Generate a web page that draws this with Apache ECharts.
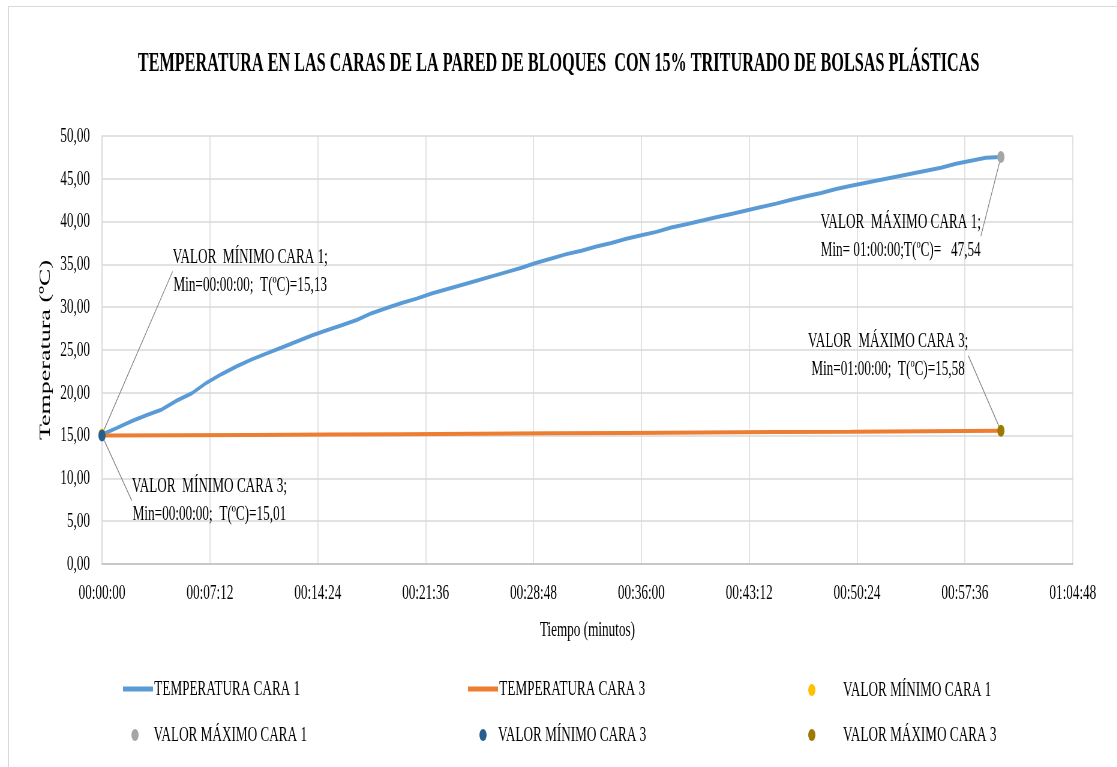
<!DOCTYPE html>
<html>
<head>
<meta charset="utf-8">
<script src="https://cdn.jsdelivr.net/npm/echarts@6/dist/echarts.min.js"></script>
<style>
  html, body { margin: 0; padding: 0; background: #fff; overflow: hidden; }
  #frame { position: absolute; left: 8px; top: 6px; width: 1120px; height: 770px; border: 1px solid #d9d9d9; box-sizing: border-box; }
  /* the reference is a horizontally squeezed picture: draw wide, then squeeze */
  #wrap { position: absolute; left: 0; top: 0; width: 1862px; height: 767px; transform: scaleX(0.6); transform-origin: 0 0; }
  #chart { width: 1862px; height: 767px; }
</style>
</head>
<body>
<div id="frame"></div>
<div id="wrap"><div id="chart"></div></div>
<script>
// tiempo en minutos
const tiempoMin = [0, 1, 2, 3, 4, 5, 6, 7, 8, 9, 10, 11, 12, 13, 14, 15, 16, 17, 18, 19, 20,
  21, 22, 23, 24, 25, 26, 27, 28, 29, 30, 31, 32, 33, 34, 35, 36, 37, 38, 39, 40,
  41, 42, 43, 44, 45, 46, 47, 48, 49, 50, 51, 52, 53, 54, 55, 56, 57, 58, 59, 60]
const caraUno = [15.13, 15.9, 16.7, 17.4, 18.05, 19.1, 19.95, 21.2, 22.2, 23.1, 23.9,
  24.6, 25.3, 26.0, 26.7, 27.3, 27.9, 28.5, 29.3, 29.9, 30.5,
  31.0, 31.6, 32.1, 32.6, 33.1, 33.6, 34.1, 34.6, 35.2, 35.7,
  36.2, 36.6, 37.1, 37.5, 38.0, 38.4, 38.8, 39.3, 39.7, 40.1,
  40.5, 40.9, 41.3, 41.7, 42.1, 42.55, 42.95, 43.35, 43.8, 44.2,
  44.55, 44.9, 45.25, 45.6, 45.95, 46.3, 46.75, 47.1, 47.45, 47.54]
const tiempoMinC3 = [0, 5, 10, 15, 20, 25, 30, 35, 40, 45, 50, 55, 60]
const caraTres = [15.01, 15.04, 15.08, 15.12, 15.16, 15.21, 15.26, 15.31, 15.36, 15.41, 15.46, 15.52, 15.58]

const minCara1 = [0, 15.13]
const maxCara1 = [60, 47.54]
const minCara3 = [0, 15.01]
const maxCara3 = [60, 15.58]

const FONT = 'Liberation Serif'
const pad = n => String(n).padStart(2, '0')
const hms = s => pad(Math.floor(s / 3600)) + ':' + pad(Math.floor(s % 3600 / 60)) + ':' + pad(Math.round(s % 60))
const num = v => v.toFixed(2).replace('.', ',')
const pts = (ts, vs) => ts.map((t, i) => [t * 60, vs[i]])

const labelBase = {
  show: true,
  position: 'inside',
  fontFamily: FONT,
  fontSize: 22,
  lineHeight: 28,
  color: '#000',
  align: 'center'
}
const guide = { show: true, lineStyle: { color: '#7f7f7f', width: 1.2 } }

function marker (name, color, point, text, dx, dy) {
  return {
    name,
    type: 'scatter',
    symbol: 'circle',
    symbolSize: 12,
    z: 5,
    itemStyle: { color, opacity: 1 },
    data: [[point[0] * 60, point[1]]],
    label: Object.assign({}, labelBase, { formatter: p => text(p.value) }),
    labelLine: guide,
    labelLayout: { dx, dy }
  }
}

// one legend per item, laid out like the 3x2 grid of the reference
function legLine (name, left, top) {
  return {
    data: [name], left, top, padding: 0,
    icon: 'rect', itemWidth: 50, itemHeight: 5,
    textStyle: { fontFamily: FONT, fontSize: 22, color: '#000', padding: [0, 0, 0, -3] },
    selectedMode: false
  }
}
function legDot (name, left, top, gap) {
  return {
    data: [name], left, top, padding: 0,
    icon: 'circle', itemWidth: 12, itemHeight: 12,
    textStyle: { fontFamily: FONT, fontSize: 22, color: '#000', padding: [0, 0, 0, gap] },
    selectedMode: false
  }
}

const chart = echarts.init(document.getElementById('chart'))
chart.setOption({
  backgroundColor: 'transparent',
  animation: false,
  title: {
    text: 'TEMPERATURA EN LAS CARAS DE LA PARED DE BLOQUES  CON 15% TRITURADO DE BOLSAS PLÁSTICAS',
    left: 'center',
    top: 46,
    textStyle: { fontFamily: FONT, fontSize: 27, fontWeight: 'bold', color: '#000' }
  },
  grid: { left: 170, right: 74, top: 136, bottom: 203, containLabel: false },
  legend: [
    legLine('TEMPERATURA CARA 1', 205, 678),
    legLine('TEMPERATURA CARA 3', 780, 678),
    legDot('VALOR MÍNIMO CARA 1', 1347, 679, 41),
    legDot('VALOR MÁXIMO CARA 1', 219, 724, 20),
    legDot('VALOR MÍNIMO CARA 3', 799, 724, 14),
    legDot('VALOR MÁXIMO CARA 3', 1347, 724, 41)
  ],
  xAxis: {
    type: 'value',
    min: 0,
    max: 3888,
    interval: 432,
    name: 'Tiempo (minutos)',
    nameLocation: 'middle',
    nameGap: 55,
    nameTextStyle: { fontFamily: FONT, fontSize: 22, color: '#000' },
    axisLine: { show: true, lineStyle: { color: '#bfbfbf', width: 1.5 } },
    axisTick: { show: false },
    axisLabel: { fontFamily: FONT, fontSize: 22, color: '#000', margin: 18, formatter: v => hms(v) },
    splitLine: { show: true, lineStyle: { color: '#d9d9d9', width: 1.5 } }
  },
  yAxis: {
    type: 'value',
    min: 0,
    max: 50,
    interval: 5,
    name: 'Temperatura (ºC)',
    nameLocation: 'middle',
    nameRotate: 90,
    nameGap: 68,
    nameTextStyle: { fontFamily: FONT, fontSize: 26, color: '#000' },
    axisLine: { show: true, lineStyle: { color: '#d9d9d9', width: 1.5 } },
    axisTick: { show: false },
    axisLabel: { fontFamily: FONT, fontSize: 22, color: '#000', margin: 20, formatter: v => num(v) },
    splitLine: { show: true, lineStyle: { color: '#d9d9d9', width: 1.5 } }
  },
  series: [
    {
      name: 'TEMPERATURA CARA 1',
      type: 'line',
      symbol: 'none',
      lineStyle: { color: '#5b9bd5', width: 4 },
      itemStyle: { color: '#5b9bd5' },
      data: pts(tiempoMin, caraUno)
    },
    {
      name: 'TEMPERATURA CARA 3',
      type: 'line',
      symbol: 'none',
      lineStyle: { color: '#ed7d31', width: 4 },
      itemStyle: { color: '#ed7d31' },
      data: pts(tiempoMinC3, caraTres)
    },
    marker('VALOR MÍNIMO CARA 1', '#ffc000', minCara1,
      v => 'VALOR  MÍNIMO CARA 1;\nMin=' + hms(v[0]) + ';  T(ºC)=' + num(v[1]), 247, -163),
    marker('VALOR MÁXIMO CARA 1', '#a5a5a5', maxCara1,
      v => 'VALOR  MÁXIMO CARA 1;\nMin= ' + hms(v[0]) + ';T(ºC)=   ' + num(v[1]), -167, 79),
    marker('VALOR MÍNIMO CARA 3', '#255e91', minCara3,
      v => 'VALOR  MÍNIMO CARA 3;\nMin=' + hms(v[0]) + ';  T(ºC)=' + num(v[1]), 179, 65),
    marker('VALOR MÁXIMO CARA 3', '#9c7a00', maxCara3,
      v => 'VALOR  MÁXIMO CARA 3;\nMin=' + hms(v[0]) + ';  T(ºC)=' + num(v[1]), -188, -75)
  ]
})
</script>
</body>
</html>
